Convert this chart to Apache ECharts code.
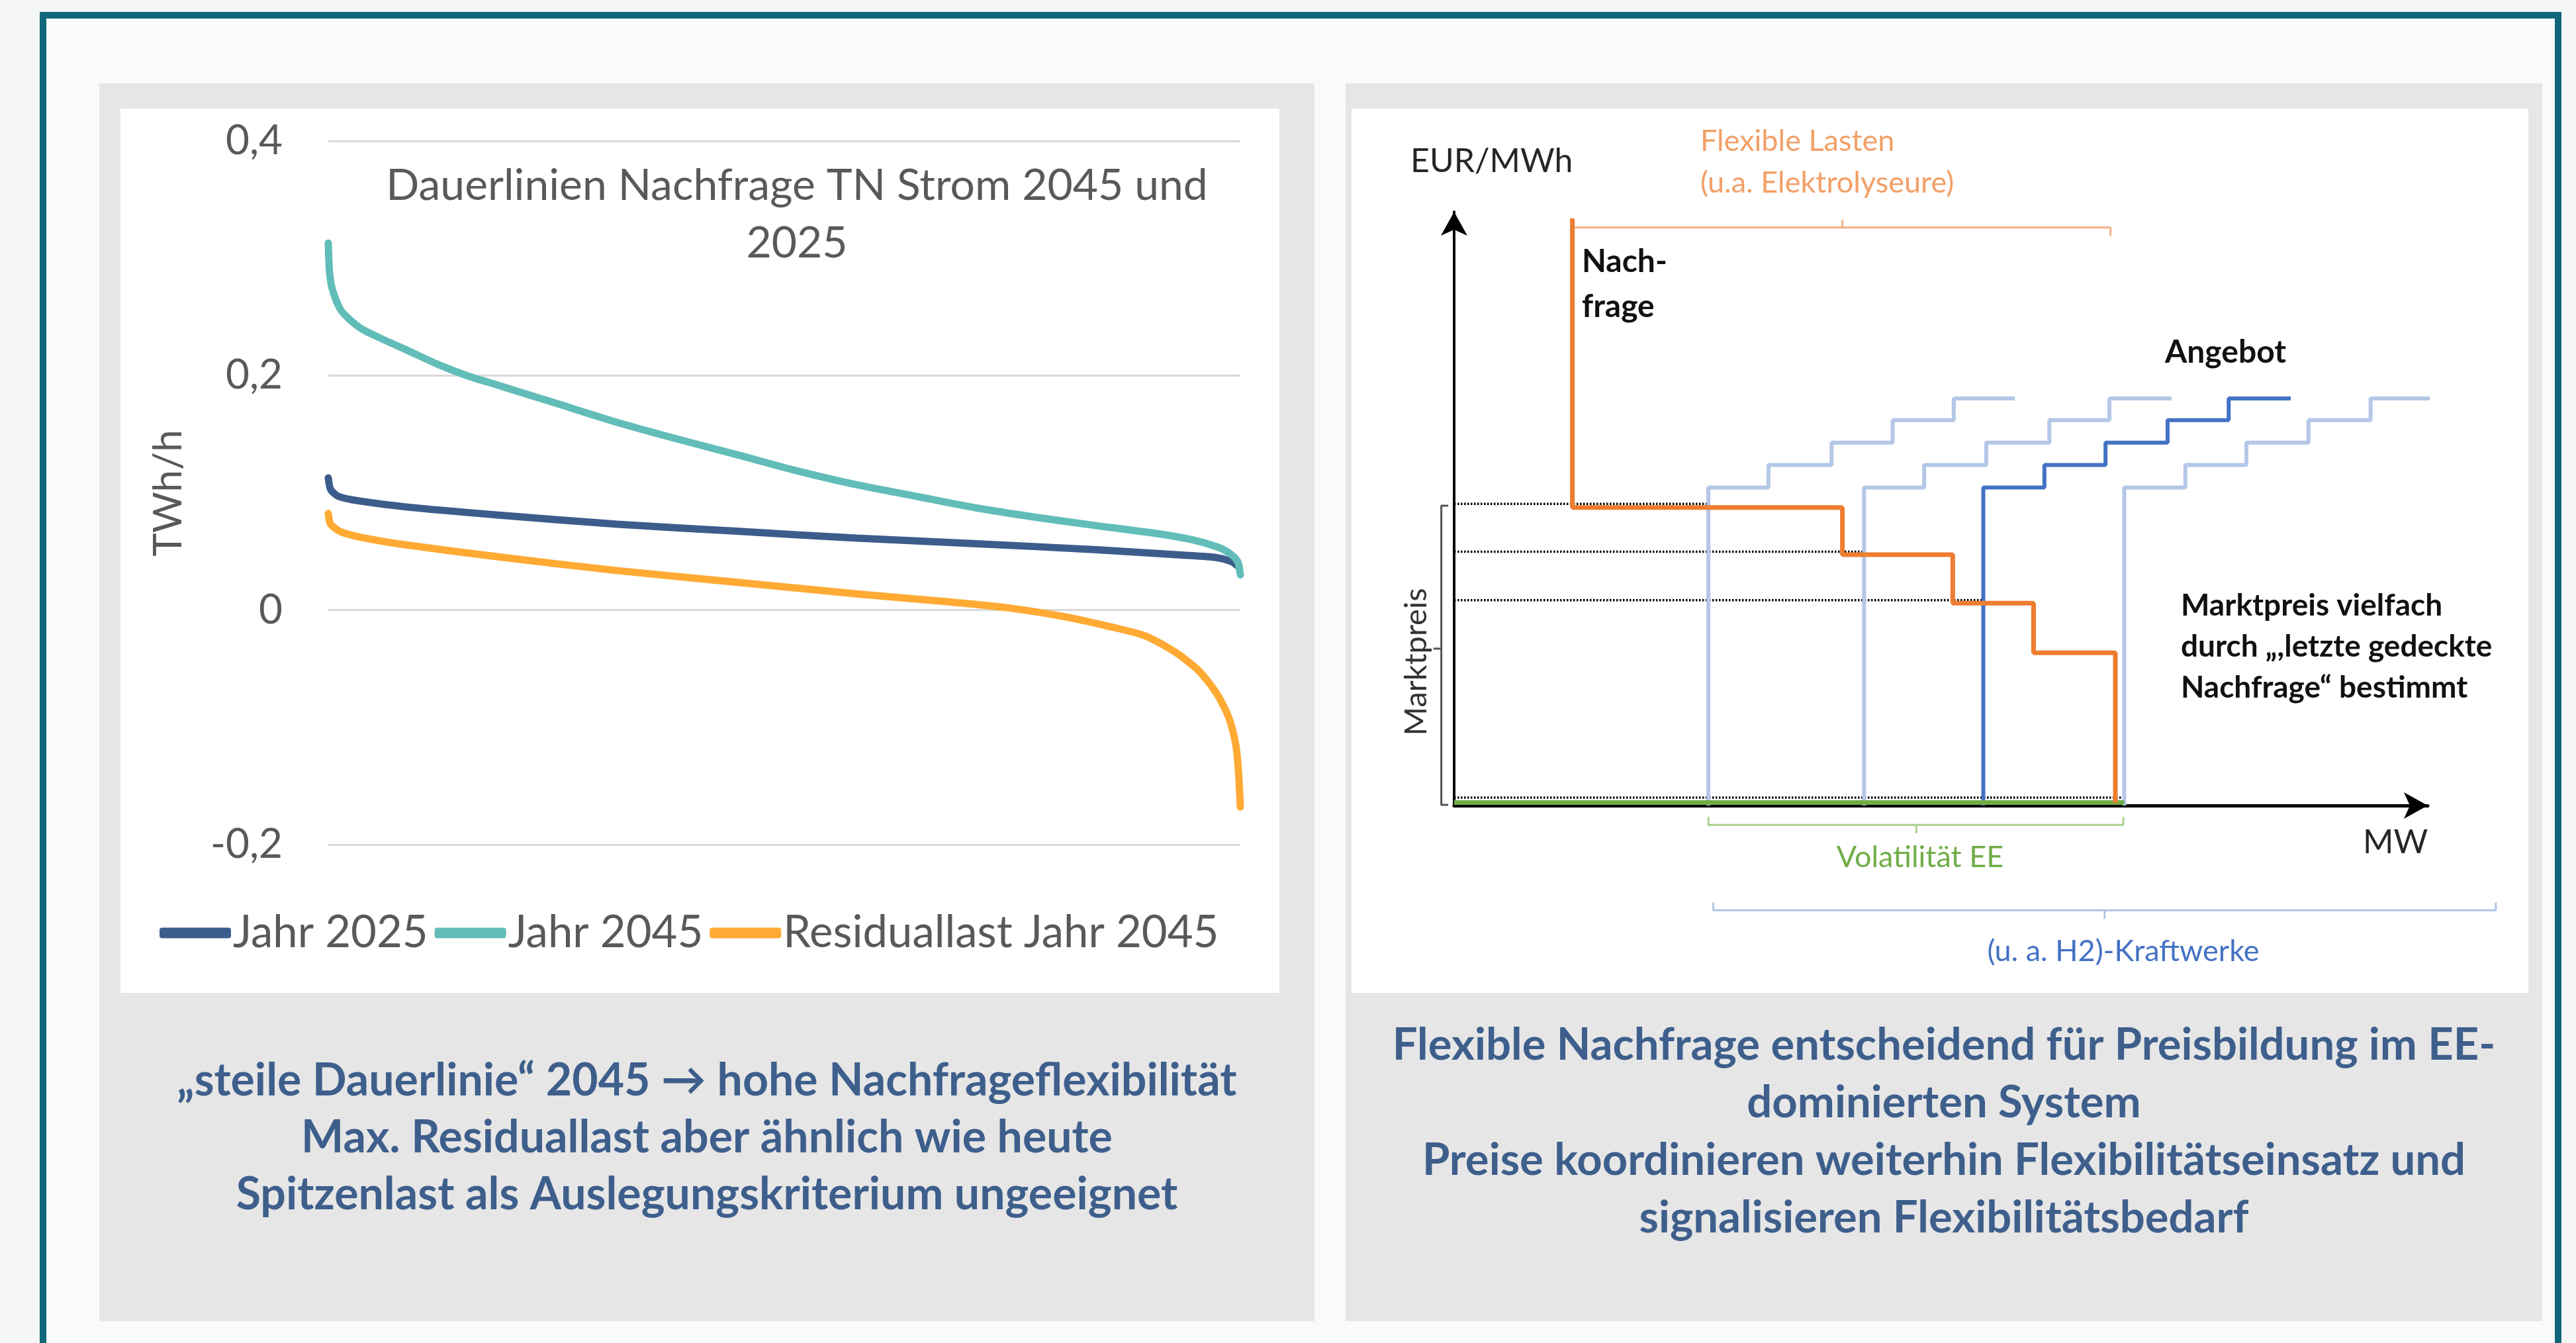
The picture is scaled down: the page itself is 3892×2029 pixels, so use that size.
<!DOCTYPE html>
<html>
<head>
<meta charset="utf-8">
<script src="https://cdn.jsdelivr.net/npm/echarts@6/dist/echarts.min.js"></script>
<style>
html, body { margin: 0; padding: 0; background: #f5f6f6; }
#main { width: 3892px; height: 2029px; }
</style>
</head>
<body>
<div id="main"></div>
<script>
// Dauerlinien (share of hours in %, TWh/h)
var hours2045 = [0, 0.13, 0.46, 1.45, 3.42, 5.39, 8.67, 11.96, 15.24, 18.5, 25.1, 31.7, 38.2, 44.8, 51.4, 57.95, 64.5, 71.1, 77.7, 84.2, 90.8, 94.7, 97.4, 98.7, 99.7, 100];
var jahr2045 = [0.313, 0.289, 0.273, 0.255, 0.241, 0.233, 0.2215, 0.2097, 0.1998, 0.192, 0.176, 0.160, 0.146, 0.1325, 0.1187, 0.1068, 0.0969, 0.087, 0.079, 0.072, 0.0653, 0.060, 0.054, 0.049, 0.0415, 0.030];
var hours2025 = [0, 0.26, 1.12, 3.42, 8.67, 18.5, 31.7, 44.8, 57.95, 71.1, 84.2, 94.1, 97.4, 99.0, 99.7];
var jahr2025 = [0.1127, 0.1028, 0.0969, 0.093, 0.0878, 0.0811, 0.0732, 0.0672, 0.0613, 0.0566, 0.0514, 0.0467, 0.0447, 0.0415, 0.0376];
var hoursRes = [0, 0.26, 1.45, 4.07, 8.67, 18.5, 31.7, 44.8, 57.95, 67.8, 74.4, 80.9, 85.5, 89.5, 92.8, 95.4, 97.4, 98.7, 99.5, 99.8, 100];
var residual2045 = [0.0823, 0.0732, 0.0665, 0.0613, 0.0554, 0.0455, 0.0336, 0.0237, 0.0138, 0.0071, 0.002, -0.0059, -0.0138, -0.0218, -0.0356, -0.0514, -0.0712, -0.091, -0.1147, -0.1384, -0.168];
var seriesNames = ["Jahr 2025", "Jahr 2045", "Residuallast Jahr 2045"];
var yTicks = [-0.2, 0, 0.2, 0.4];

// Merit-order schema (abstract MW / EUR/MWh units)
var demandX = [12, 39.4, 50.6, 58.8, 67.1, 67.1];
var demandY = [96.9, 49.2, 41.4, 33.4, 25.2, 0.4];
var supplyLevels = [0, 52.5, 56.2, 59.9, 63.6, 67.2];
var supplyX1 = [25.8, 31.9, 38.3, 44.5, 50.7, 56.9];
var supplyX2 = [41.6, 47.7, 54.0, 60.4, 66.5, 72.8];
var supplyX3 = [53.7, 59.9, 66.1, 72.4, 78.6, 84.9];
var supplyX4 = [68.0, 74.2, 80.4, 86.7, 93.0, 99.2];
var priceLevels = [49.8, 41.9, 33.9, 1.3];
var priceEnds = [25.8, 41.6, 53.7, 68.0];
var eeLevel = 0.5;

var leftCaption = ["„steile Dauerlinie“ 2045 → hohe Nachfrageflexibilität", "Max. Residuallast aber ähnlich wie heute", "Spitzenlast als Auslegungskriterium ungeeignet"];
var rightCaption = ["Flexible Nachfrage entscheidend für Preisbildung im EE-", "dominierten System", "Preise koordinieren weiterhin Flexibilitätseinsatz und", "signalisieren Flexibilitätsbedarf"];

function pairs(xs, ys) {
    return xs.map(function (x, i) { return [x, ys[i]]; });
}

var FONT = "Lato, 'Open Sans', sans-serif";
var captionColor = "#3e5f8c";

var chart = echarts.init(document.getElementById("main"));

function seg(points, color, width, axis) {
    axis = axis || 1;
    return {
        type: "line", xAxisIndex: axis, yAxisIndex: axis, data: points, showSymbol: false, silent: true,
        clip: false, connectNulls: false, lineStyle: { color: color, width: width }, z: 3
    };
}

function txt(text, x, y, size, color, opt) {
    opt = opt || {};
    return {
        type: "text", x: x, y: y, z: 100, rotation: opt.rotation || 0,
        style: {
            text: text, fill: color, font: (opt.bold ? "bold " : "") + size + "px " + FONT,
            textAlign: opt.align || "left", textVerticalAlign: "middle",
            align: opt.align || "left", verticalAlign: "middle", lineHeight: opt.lineHeight
        }
    };
}

function hiddenAxis(gi, min, max) {
    return { type: "value", gridIndex: gi, min: min, max: max, show: false };
}

var option = {
    backgroundColor: "#f5f6f6",
    animation: false,
    textStyle: { fontFamily: FONT },
    graphic: [
        { type: "rect", z: -10, shape: { x: 65, y: 23, width: 3800, height: 2100 }, style: { fill: "#fafafa", stroke: "#10667a", lineWidth: 10 } },
        { type: "rect", z: -9, shape: { x: 150, y: 126, width: 1836, height: 1870 }, style: { fill: "#e6e6e6" } },
        { type: "rect", z: -9, shape: { x: 2033, y: 126, width: 1808, height: 1870 }, style: { fill: "#e6e6e6" } },
        { type: "rect", z: -8, shape: { x: 182, y: 164, width: 1751, height: 1336 }, style: { fill: "#ffffff" } },
        { type: "rect", z: -8, shape: { x: 2042, y: 164, width: 1778, height: 1336 }, style: { fill: "#ffffff" } },
        txt("Dauerlinien Nachfrage TN Strom 2045 und\n2025", 1204, 324, 66, "#595959", { align: "center", lineHeight: 87 }),
        txt("TWh/h", 255, 745, 60, "#595959", { align: "center", rotation: Math.PI / 2 }),
        txt(leftCaption.join("\n"), 1068, 1719, 68, captionColor, { align: "center", bold: true, lineHeight: 86 }),
        txt(rightCaption.join("\n"), 2937, 1710, 67, captionColor, { align: "center", bold: true, lineHeight: 87 }),
        txt("EUR/MWh", 2131, 244, 50, "#262626"),
        txt("MW", 3570, 1273, 50, "#262626"),
        txt("Flexible Lasten\n(u.a. Elektrolyseure)", 2569, 245, 45, "#f2a068", { lineHeight: 63 }),
        txt("Nach-\nfrage", 2390, 430, 48, "#111111", { bold: true, lineHeight: 68 }),
        txt("Angebot", 3271, 533, 48, "#111111", { bold: true }),
        txt("Marktpreis vielfach\ndurch „,letzte gedeckte\nNachfrage“ bestimmt", 3295, 977, 46, "#111111", { bold: true, lineHeight: 62 }),
        txt("Marktpreis", 2140, 1000, 47, "#333333", { align: "center", rotation: Math.PI / 2 }),
        txt("Volatilität EE", 2901, 1295, 45, "#70ad47", { align: "center" }),
        txt("(u. a. H2)-Kraftwerke", 3208, 1437, 45, "#4472c4", { align: "center" })
    ],
    legend: {
        data: seriesNames,
        left: 236, top: 1371,
        icon: "roundRect", itemWidth: 108, itemHeight: 16, itemGap: 10,
        textStyle: { fontSize: 67, color: "#595959", fontFamily: FONT, padding: [0, 0, 0, -2] }
    },
    grid: [
        { left: 496, right: 2018, top: 213, bottom: 753, outerBoundsMode: "none" },
        { left: 2197, right: 224, top: 320, bottom: 812, outerBoundsMode: "none" },
        // same scale as grid 1, wider extent for the brace annotations
        { left: 2122.55, right: 57.1, top: 301.7, bottom: 583.2, outerBoundsMode: "none" }
    ],
    xAxis: [
        hiddenAxis(0, 0, 100),
        {
            type: "value", gridIndex: 1, min: 0, max: 98.8,
            axisLine: { show: true, onZero: false, symbol: ["none", "arrow"], symbolSize: [30, 36], lineStyle: { color: "#000", width: 5 } },
            axisTick: { show: false }, axisLabel: { show: false }, splitLine: { show: false }
        },
        hiddenAxis(2, -5, 110)
    ],
    yAxis: [
        {
            type: "value", gridIndex: 0, min: yTicks[0], max: yTicks[yTicks.length - 1], interval: 0.2,
            axisLine: { show: false }, axisTick: { show: false },
            axisLabel: {
                fontSize: 62, color: "#595959", margin: 69, fontFamily: FONT,
                formatter: function (v) { return (Math.round(v * 10) / 10).toString().replace(".", ","); }
            },
            splitLine: { lineStyle: { color: "#d9d9d9", width: 3 } }
        },
        {
            type: "value", gridIndex: 1, min: 0, max: 98,
            axisLine: { show: true, onZero: false, symbol: ["none", "arrow"], symbolSize: [30, 36], lineStyle: { color: "#000", width: 4 } },
            axisTick: { show: false }, axisLabel: { show: false }, splitLine: { show: false }
        },
        hiddenAxis(2, -25, 100)
    ],
    series: [
        {
            name: seriesNames[0], type: "line", data: pairs(hours2025, jahr2025), showSymbol: false,
            smooth: 0.25, color: "#3c5d8c", lineStyle: { width: 11, color: "#3c5d8c", cap: "round" }
        },
        {
            name: seriesNames[1], type: "line", data: pairs(hours2045, jahr2045), showSymbol: false,
            smooth: 0.25, color: "#62bdb9", lineStyle: { width: 11, color: "#62bdb9", cap: "round" }
        },
        {
            name: seriesNames[2], type: "line", data: pairs(hoursRes, residual2045), showSymbol: false,
            smooth: 0.25, color: "#ffaa33", lineStyle: { width: 11, color: "#ffaa33", cap: "round" }
        },
        // dotted market price lines
        {
            type: "line", xAxisIndex: 1, yAxisIndex: 1, silent: true, showSymbol: false, connectNulls: false,
            data: priceLevels.reduce(function (acc, p, i) { return acc.concat([[0, p], [priceEnds[i], p], "-"]); }, []),
            lineStyle: { color: "#000", width: 3.5, type: [2.5, 2.5] }, z: 2
        },
        // supply curves
        Object.assign(seg(pairs(supplyX1, supplyLevels), "#b4c7e7", 6), { step: "start" }),
        Object.assign(seg(pairs(supplyX2, supplyLevels), "#b4c7e7", 6), { step: "start" }),
        Object.assign(seg(pairs(supplyX4, supplyLevels), "#b4c7e7", 6), { step: "start" }),
        Object.assign(seg(pairs(supplyX3, supplyLevels), "#4472c4", 6), { step: "start" }),
        // renewable volatility band
        seg([[0, eeLevel], [priceEnds[3], eeLevel]], "#70ad47", 7),
        // demand
        Object.assign(seg(pairs(demandX, demandY), "#ed7d31", 7), { step: "start", z: 5 }),
        // braces
        seg([[-0.6, 49.5], [-1.3, 49.5], [-1.3, 0.1], [-0.6, 0.1], "-", [-1.3, 25.9], [-2.1, 25.9]], "#555555", 3, 2),
        seg([[12, 94.0], [12, 95.4], [66.6, 95.4], [66.6, 94.0], "-", [39.4, 95.4], [39.4, 96.7]], "#f4b183", 3, 2),
        seg([[25.8, -1.9], [25.8, -3.2], [67.9, -3.2], [67.9, -1.9], "-", [46.9, -3.2], [46.9, -4.6]], "#a9d18e", 3, 2),
        seg([[26.3, -16.0], [26.3, -17.3], [105.7, -17.3], [105.7, -16.0], "-", [66.0, -17.3], [66.0, -18.7]], "#aec3e6", 3, 2)
    ]
};

chart.setOption(option);
</script>
</body>
</html>
